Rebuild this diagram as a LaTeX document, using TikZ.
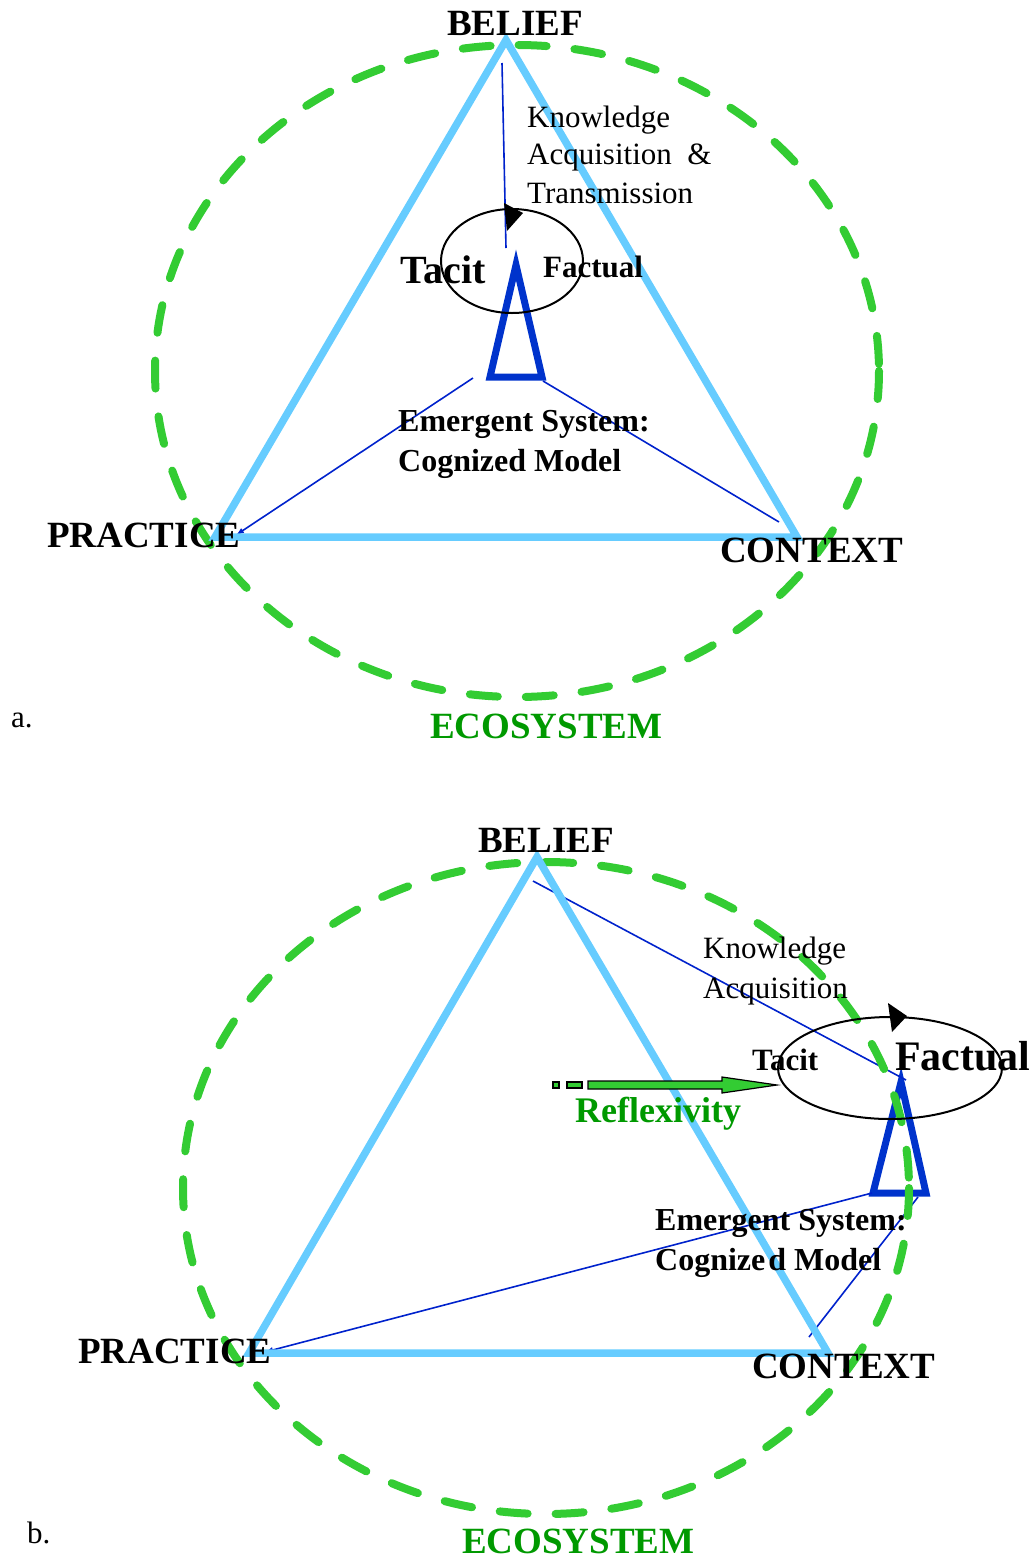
\documentclass[tikz,border=0pt]{standalone}
\usepackage{fontspec}
\setmainfont{Liberation Serif}
\usetikzlibrary{arrows.meta,shapes.geometric}
\definecolor{ecogreen}{HTML}{33CC33}
\definecolor{ecotext}{HTML}{009900}
\definecolor{trib}{HTML}{66CCFF}
\definecolor{coneb}{HTML}{0033CC}
\definecolor{linkb}{HTML}{0022CC}
\begin{document}
\begin{tikzpicture}[x=1pt,y=-1pt,
  eco/.style={draw=ecogreen,line width=8pt,dash pattern=on 28pt off 28pt,line cap=round},
  tri/.style={draw=trib,line width=7.5pt,line join=miter},
  cone/.style={draw=coneb,line width=7pt,line join=miter},
  link/.style={draw=linkb,line width=1.6pt},
  linkarr/.style={link,-{Latex[length=8pt,width=6pt]}},
  loop/.style={draw=black,line width=2pt,ellipse,inner sep=0pt},
  head/.style={fill=black},
  big/.style={font=\bfseries\fontsize{37}{40}\selectfont,anchor=base west,inner sep=0pt},
  reg/.style={font=\fontsize{31}{36}\selectfont,anchor=base west,inner sep=0pt},
  emg/.style={font=\bfseries\fontsize{32}{40}\selectfont,anchor=base west,inner sep=0pt},
  ecolbl/.style={big,text=ecotext},
  reflarrow/.style={draw=black,line width=1.2pt,fill=ecogreen,line join=miter}
]
\useasboundingbox (0,0) rectangle (1036,1559);

% ================= Panel a =================
\coordinate (aB) at (506,40);
\coordinate (aP) at (215,537);
\coordinate (aC) at (797,537);
\coordinate (aTop) at (516,265);
\coordinate (aBL) at (490,377);
\coordinate (aBR) at (542,377);
\coordinate (aL1) at (473,378);
\coordinate (aL1e) at (236,535);
\coordinate (aR1) at (543,381);
\coordinate (aR1e) at (779,522);
\coordinate (aK1) at (502,63);
\coordinate (aK2) at (506,248);
\coordinate (aEc) at (517,371);

\draw[cone] (aTop) -- (aBR) -- (aBL) -- cycle;
\draw[linkarr] (aL1) -- (aL1e);
\draw[link] (aR1) -- (aR1e);
\draw[link] (aK1) -- (aK2);
\draw[eco] (aEc) ellipse [x radius=362, y radius=326];
\draw[tri] (aB) -- (aC) -- (aP) -- cycle;
\node[loop,minimum width=142pt,minimum height=104pt] (aLoop) at (512,261) {};
\fill[head] (504,203) -- (523,213) -- (507,231) -- cycle;

\node[big] (aBelief) at (447,35) {BELIEF};
\node[reg] (aKn1) at (527,127) {Knowledge};
\node[reg] (aKn2) at (527,164) {Acquisition~~\&};
\node[reg] (aKn3) at (527,203) {Transmission};
\node[big,font=\bfseries\fontsize{40}{44}\selectfont] (aTacit) at (400,283) {Tacit};
\node[big,font=\bfseries\fontsize{31}{36}\selectfont] (aFact) at (543,277) {Factual};
\node[emg] (aEm1) at (398,431) {Emergent System:};
\node[emg] (aEm2) at (398,471) {Cognized Model};
\node[big] (aPrac) at (47,547) {PRACTICE};
\node[big] (aCont) at (720,562) {CONTEXT};
\node[ecolbl] (aEco) at (430,738) {ECOSYSTEM};
\node[reg] (aLab) at (11,727) {a.};

% ================= Panel b =================
\coordinate (bB) at (537,857);
\coordinate (bP) at (249,1353);
\coordinate (bC) at (828,1353);
\coordinate (bTop) at (901,1082);
\coordinate (bBL) at (873,1193);
\coordinate (bBR) at (926,1193);
\coordinate (bL1) at (872,1193);
\coordinate (bL1e) at (265,1352);
\coordinate (bR1) at (918,1197);
\coordinate (bR1e) at (809,1337);
\coordinate (bK1) at (533,881);
\coordinate (bK2) at (906,1080);
\coordinate (bEc) at (546,1188);

\draw[cone] (bTop) -- (bBR) -- (bBL) -- cycle;
\draw[linkarr] (bL1) -- (bL1e);
\draw[link] (bR1) -- (bR1e);
\draw[link] (bK1) -- (bK2);
\draw[eco] (bEc) ellipse [x radius=363, y radius=326];
\draw[tri] (bB) -- (bC) -- (bP) -- cycle;
\node[loop,minimum width=224pt,minimum height=102pt] (bLoop) at (890,1068) {};
\fill[head] (888,1003) -- (907,1016) -- (892,1032) -- cycle;

% reflexivity arrow
\draw[reflarrow] (553,1082) rectangle (559,1088);
\draw[reflarrow] (567,1082) rectangle (582,1088);
\draw[reflarrow] (588,1081) -- (722,1081) -- (722,1077) -- (777,1085) -- (722,1093) -- (722,1089) -- (588,1089) -- cycle;

\node[big] (bBelief) at (478,852) {BELIEF};
\node[reg] (bKn1) at (703,958) {Knowledge};
\node[reg] (bKn2) at (703,998) {Acquisition};
\node[big,font=\bfseries\fontsize{31}{36}\selectfont] (bTacit) at (752,1070) {Tacit};
\node[big,font=\bfseries\fontsize{42}{46}\selectfont] (bFact) at (895,1070) {Factual};
\node[big,font=\bfseries\fontsize{36}{40}\selectfont,text=ecotext] (bRefl) at (575,1122) {Reflexivity};
\node[emg] (bEm1) at (655,1230) {Emergent System:};
\node[emg] (bEm2) at (655,1270) {Cognize\kern3pt d Model};
\node[big] (bPrac) at (78,1363) {PRACTICE};
\node[big] (bCont) at (752,1378) {CONTEXT};
\node[ecolbl] (bEco) at (462,1553) {ECOSYSTEM};
\node[reg] (bLab) at (27,1543) {b.};
\end{tikzpicture}
\end{document}
